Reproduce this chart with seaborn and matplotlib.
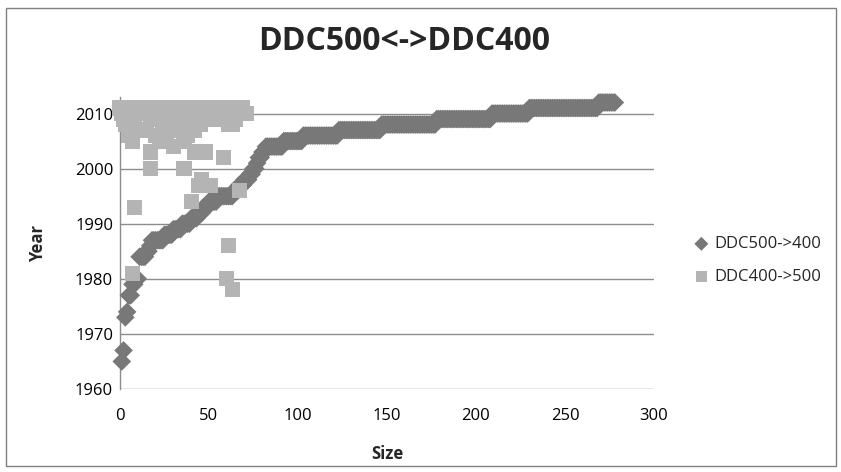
import numpy as np
import pandas as pd
import matplotlib
matplotlib.use("Agg")
import matplotlib.pyplot as plt
from matplotlib.patches import Rectangle
import seaborn as sns

# ---- data ----
# DDC500->400 : items sorted by year; number of items per year
d_years = [1965, 1967, 1973, 1974, 1977, 1979, 1980, 1984, 1985, 1986, 1987, 1988,
           1989, 1990, 1991, 1992, 1993, 1994, 1995, 1996, 1997, 1998, 1999, 2000,
           2001, 2002, 2003, 2004, 2005, 2006, 2007, 2008, 2009, 2010, 2011, 2012]
d_counts = [1, 1, 1, 1, 2, 2, 2, 4, 2, 1, 7, 5,
            5, 5, 4, 3, 3, 5, 9, 3, 3, 3, 2, 2,
            1, 2, 2, 10, 11, 20, 24, 31, 31, 21, 39, 10]

# DDC400->500 : (size, year) points
sq_size = [0, 3, 6, 9, 12, 15, 18, 21, 24, 27, 30, 33, 36, 39, 42, 45, 48, 51, 54, 57, 60, 63, 66, 69,
           1, 5, 14, 20, 26, 34, 38, 44, 50, 56, 62, 68, 71,
           2, 8, 17, 23, 29, 35, 41, 47, 53, 59, 65,
           3, 24, 31, 37, 45, 61, 63,
           5, 12, 15, 27, 33, 42,
           5, 20, 26, 38,
           7, 22, 36,
           30,
           17, 42, 48,
           58,
           17, 36,
           46,
           44, 51,
           67,
           40,
           8,
           61,
           7,
           60,
           63]
sq_year = [2011] * 24 + [2010] * 13 + [2009] * 11 + [2008] * 7 + [2007] * 6 + [2006] * 4 + \
          [2005] * 3 + [2004] + [2003] * 3 + [2002] + [2000] * 2 + [1998] + [1997] * 2 + \
          [1996] + [1994] + [1993] + [1986] + [1981] + [1980] + [1978]

x_ticks = [0, 50, 100, 150, 200, 250, 300]
y_ticks = [1960, 1970, 1980, 1990, 2000, 2010]

d_year_list = np.repeat(d_years, d_counts)
df_d = pd.DataFrame({"Size": np.arange(1, len(d_year_list) + 1), "Year": d_year_list,
                     "series": "DDC500->400"})
df_s = pd.DataFrame({"Size": sq_size, "Year": sq_year, "series": "DDC400->500"})

sns.set_theme(style="white")
plt.rcParams["font.family"] = ["Open Sans", "DejaVu Sans"]

fig = plt.figure(figsize=(8.41, 4.72), dpi=100)
ax = fig.add_axes([120 / 841, 1 - 389 / 472, (654 - 120) / 841, (389 - 97) / 472])

sns.scatterplot(data=df_d, x="Size", y="Year", marker="D", s=90, color="#787878",
                edgecolor="none", linewidth=0, ax=ax, label="DDC500->400", zorder=3)
sns.scatterplot(data=df_s, x="Size", y="Year", marker="s", s=120, color="#b4b4b4",
                edgecolor="none", linewidth=0, ax=ax, label="DDC400->500", zorder=4)
for coll in ax.collections:
    coll.set_clip_on(False)

ax.set_xlim(0, 300)
ax.set_ylim(1960, 2013)
ax.set_xticks(x_ticks)
ax.set_yticks(y_ticks)
ax.tick_params(axis="both", labelsize=12, colors="#000000", length=0)
ax.tick_params(axis="y", pad=5)
ax.tick_params(axis="x", pad=14)
for y in y_ticks:
    ax.axhline(y, color="#8c8c8c", lw=1.0, zorder=1)
for s in ["top", "right", "bottom"]:
    ax.spines[s].set_visible(False)
ax.spines["left"].set_color("#8c8c8c")
ax.spines["left"].set_linewidth(1.0)

ax.set_xlabel("Size", fontsize=12, fontweight="bold", labelpad=15)
ax.set_ylabel("Year", fontsize=12, fontweight="bold", labelpad=20)

fig.text(404 / 841, 1 - 41 / 472, "DDC500<->DDC400", fontsize=23, fontweight="bold",
         ha="center", va="center")

leg = ax.legend(loc="center left", bbox_to_anchor=(1.045, 0.44), frameon=False,
                fontsize=12, handlelength=1.0, handletextpad=0.3, labelspacing=1.0,
                markerscale=0.75)

fig.patches.append(Rectangle((6 / 841, 1 - 466 / 472), 830 / 841, 458 / 472,
                             transform=fig.transFigure, fill=False,
                             edgecolor="#7f7f7f", lw=1.0))

fig.savefig("out.png", dpi=100)
